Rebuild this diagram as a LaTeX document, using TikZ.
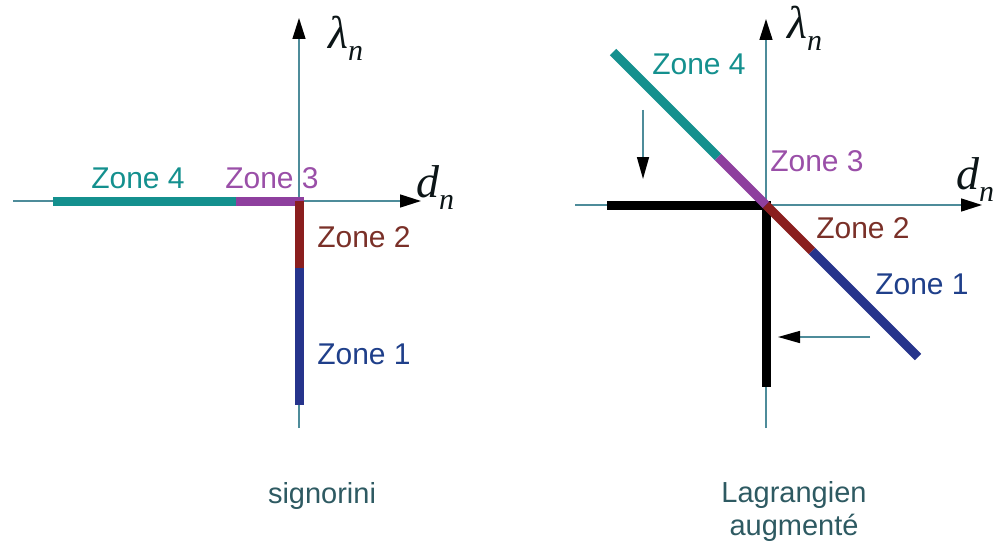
\documentclass[tikz,border=0pt]{standalone}
\usepackage{fontspec}
\setmainfont{Liberation Sans}
\newfontfamily\symser{Liberation Serif}
\usetikzlibrary{arrows.meta}
\definecolor{axc}{HTML}{4E8C9A}
\definecolor{zfour}{HTML}{14908E}
\definecolor{zthree}{HTML}{8E3F9E}
\definecolor{ztwo}{HTML}{8A1E1E}
\definecolor{zone}{HTML}{26348C}
\definecolor{tzthree}{HTML}{9A4FA8}
\definecolor{tztwo}{HTML}{7A3028}
\definecolor{tzone}{HTML}{1F3F8A}
\definecolor{capc}{HTML}{2E5A62}
\newcommand{\symlab}[1]{{\symser\itshape\fontsize{46}{50}\selectfont #1\raisebox{-12pt}{\fontsize{30}{34}\selectfont n}}}
\begin{document}
\begin{tikzpicture}[x=1pt,y=-1pt,
  axis/.style={draw=axc,line width=1.5pt},
  axarrow/.style={axis,-{Triangle[length=21pt,width=13pt,black]}},
  moverarrow/.style={axis,-{Triangle[length=22pt,width=12pt,black]}},
  seg/.style={line width=9pt},
  zlab/.style={font=\fontsize{30}{36}\selectfont,inner sep=0pt},
  mlab/.style={inner sep=0pt,text=black!85!axc},
  caplab/.style={font=\fontsize{29}{33}\selectfont,text=capc,inner sep=0pt,align=center}]
\useasboundingbox (0,0) rectangle (997,543);
% ---------- left: signorini ----------
\coordinate (Lo) at (299,201);
\coordinate (Lxl) at (13,201);
\coordinate (Lxr) at (421,201);
\coordinate (Lyt) at (299,18);
\coordinate (Lyb) at (299,428);
\coordinate (L4a) at (53,201);
\coordinate (L43) at (236,201);
\coordinate (L21) at (299,268);
\coordinate (L1b) at (299,405);
\draw[axis] (Lxl) -- (Lo);
\draw[axarrow] (Lo) -- (Lxr);
\draw[axarrow] (Lyb) -- (Lyt);
\draw[seg,zfour] (L4a) -- (L43);
\draw[seg,zthree] (L43) -- ([xshift=4.5pt]Lo);
\draw[seg,ztwo] (Lo) -- (L21);
\draw[seg,zone] (L21) -- (L1b);
\node[zlab,text=zfour] (lz4) at (138,178) {Zone 4};
\node[zlab,text=tzthree] (lz3) at (272,178) {Zone 3};
\node[zlab,text=tztwo] (lz2) at (364,237) {Zone 2};
\node[zlab,text=tzone] (lz1) at (364,354) {Zone 1};
\node[mlab,anchor=west] (llam) at (328,38) {\symlab{λ}};
\node[mlab,anchor=west] (ld) at (416,188) {\symlab{d}};
\node[caplab] (lcap) at (322,496) {signorini};
% ---------- right: Lagrangien augmente ----------
\coordinate (Ro) at (766,205);
\coordinate (Rxl) at (575,205);
\coordinate (Rxr) at (982,205);
\coordinate (Ryt) at (766,19);
\coordinate (Ryb) at (766,428);
\coordinate (Rbl) at (607,205);
\coordinate (Rbb) at (766,387);
\coordinate (R4a) at (613,52);
\coordinate (R43) at (718,157);
\coordinate (R21) at (812,251);
\coordinate (R1b) at (918,357);
\draw[axis] (Rxl) -- (Ro);
\draw[axarrow] (Ro) -- (Rxr);
\draw[axarrow] (Ryb) -- (Ryt);
\draw[seg,black] (Rbl) -- ([xshift=4.5pt]Ro);
\draw[seg,black] (Ro) -- (Rbb);
\draw[seg,zfour] (R4a) -- (R43);
\draw[seg,zthree] (R43) -- (Ro);
\draw[seg,ztwo] (Ro) -- (R21);
\draw[seg,zone] (R21) -- (R1b);
\coordinate (Rda) at (643,110);
\coordinate (Rdb) at (643,179);
\coordinate (Rla) at (870,337);
\coordinate (Rlb) at (778,337);
\draw[moverarrow] (Rda) -- (Rdb);
\draw[moverarrow] (Rla) -- (Rlb);
\node[zlab,text=zfour] (rz4) at (699,64) {Zone 4};
\node[zlab,text=tzthree] (rz3) at (817,161) {Zone 3};
\node[zlab,text=tztwo] (rz2) at (863,228) {Zone 2};
\node[zlab,text=tzone] (rz1) at (922,284) {Zone 1};
\node[mlab,anchor=west] (rlam) at (787,28) {\symlab{λ}};
\node[mlab,anchor=west] (rd) at (956,180) {\symlab{d}};
\node[caplab] (rcap) at (794,511) {Lagrangien\\augmenté};
\end{tikzpicture}
\end{document}
